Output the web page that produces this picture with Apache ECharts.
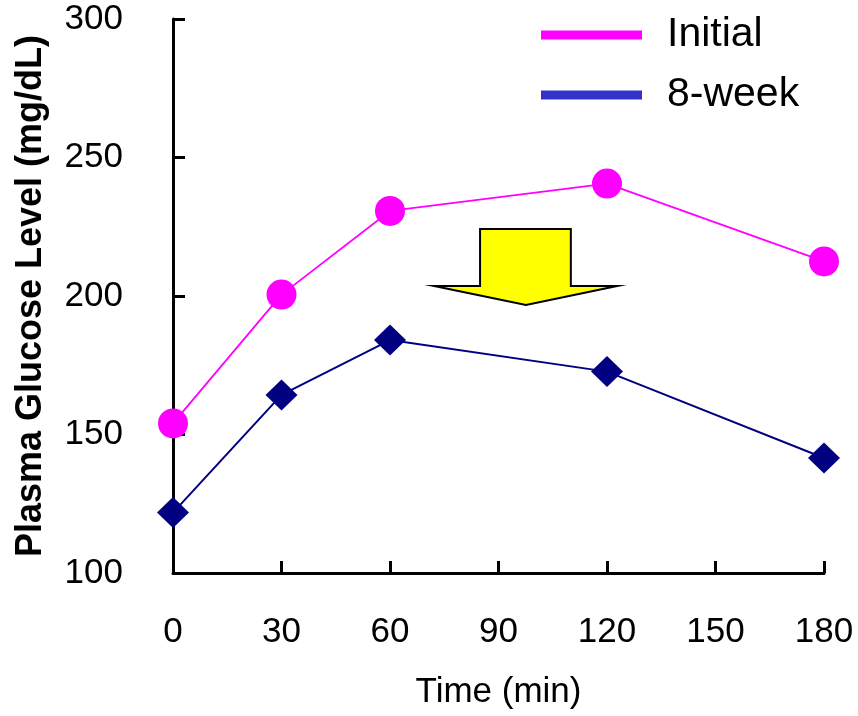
<!DOCTYPE html>
<html>
<head>
<meta charset="utf-8">
<script src="https://cdn.jsdelivr.net/npm/echarts@6/dist/echarts.min.js"></script>
<style>
html,body{margin:0;padding:0;background:#fff;}
#chart{width:858px;height:716px;}
</style>
</head>
<body>
<div id="chart"></div>
<script>
// ---- data ----
var timeMin = [0, 30, 60, 120, 180];
var initialValues = [154, 200.5, 230.7, 240.6, 212.5];
var week8Values = [121.8, 164.3, 184.1, 172.7, 141.5];
var seriesNames = ['Initial', '8-week'];
var xTicks = [0, 30, 60, 90, 120, 150, 180];
var yTicks = [100, 150, 200, 250, 300];
// block arrow outline in data space (time, mg/dL)
var arrowX = [84.9, 110.0, 110.0, 122.8, 97.6, 72.2, 84.9];
var arrowY = [224.2, 224.2, 203.6, 203.6, 196.8, 203.6, 203.6];

var FONT = '"Liberation Sans", Arial, sans-serif';
var chart = echarts.init(document.getElementById('chart'));

function pairs(xs, ys) { return xs.map(function (x, i) { return [x, ys[i]]; }); }

chart.setOption({
  animation: false,
  backgroundColor: '#ffffff',
  grid: { left: 173, right: 34, top: 19, bottom: 143 },
  legend: {
    orient: 'vertical',
    left: 541,
    top: 14,
    padding: 0,
    itemWidth: 101,
    itemHeight: 9,
    itemGap: 18,
    selectedMode: false,
    textStyle: { fontFamily: FONT, fontSize: 41, color: '#000', lineHeight: 42, padding: [0, 0, 0, 20] },
    data: [
      { name: seriesNames[0], icon: 'rect', itemStyle: { color: '#ff00ff' } },
      { name: seriesNames[1], icon: 'rect', itemStyle: { color: '#3333cc' } }
    ]
  },
  xAxis: {
    type: 'value',
    min: xTicks[0], max: xTicks[xTicks.length - 1], interval: 30,
    name: 'Time (min)',
    nameLocation: 'middle',
    nameGap: 102,
    nameTextStyle: { fontFamily: FONT, fontSize: 35, color: '#000' },
    axisLine: { show: true, lineStyle: { color: '#000', width: 3 } },
    axisTick: { show: true, inside: true, length: 12, lineStyle: { color: '#000', width: 3 } },
    axisLabel: { fontFamily: FONT, fontSize: 35, color: '#000', margin: 42 },
    splitLine: { show: false }
  },
  yAxis: {
    type: 'value',
    min: yTicks[0], max: yTicks[yTicks.length - 1], interval: 50,
    name: 'Plasma Glucose Level (mg/dL)',
    nameLocation: 'middle',
    nameGap: 124,
    nameTextStyle: { fontFamily: FONT, fontSize: 36, fontWeight: 'bold', color: '#000' },
    axisLine: { show: true, lineStyle: { color: '#000', width: 3 } },
    axisTick: { show: true, inside: true, length: 12, lineStyle: { color: '#000', width: 3 } },
    axisLabel: { fontFamily: FONT, fontSize: 35, color: '#000', margin: 50 },
    splitLine: { show: false }
  },
  series: [
    {
      type: 'custom',
      name: 'arrow',
      data: [[0, 0]],
      z: 1,
      silent: true,
      renderItem: function (params, api) {
        var pts = arrowX.map(function (x, i) { return api.coord([x, arrowY[i]]); });
        return {
          type: 'polygon',
          shape: { points: pts },
          style: { fill: '#ffff00', stroke: '#000', lineWidth: 2 }
        };
      }
    },
    {
      name: seriesNames[0],
      type: 'line',
      data: pairs(timeMin, initialValues),
      symbol: 'circle',
      symbolSize: 30,
      itemStyle: { color: '#ff00ff' },
      lineStyle: { color: '#ff00ff', width: 1.8 },
      z: 3
    },
    {
      name: seriesNames[1],
      type: 'line',
      data: pairs(timeMin, week8Values),
      symbol: 'diamond',
      symbolSize: [32, 31],
      itemStyle: { color: '#000080' },
      lineStyle: { color: '#000080', width: 2 },
      z: 3
    }
  ]
});
</script>
</body>
</html>
